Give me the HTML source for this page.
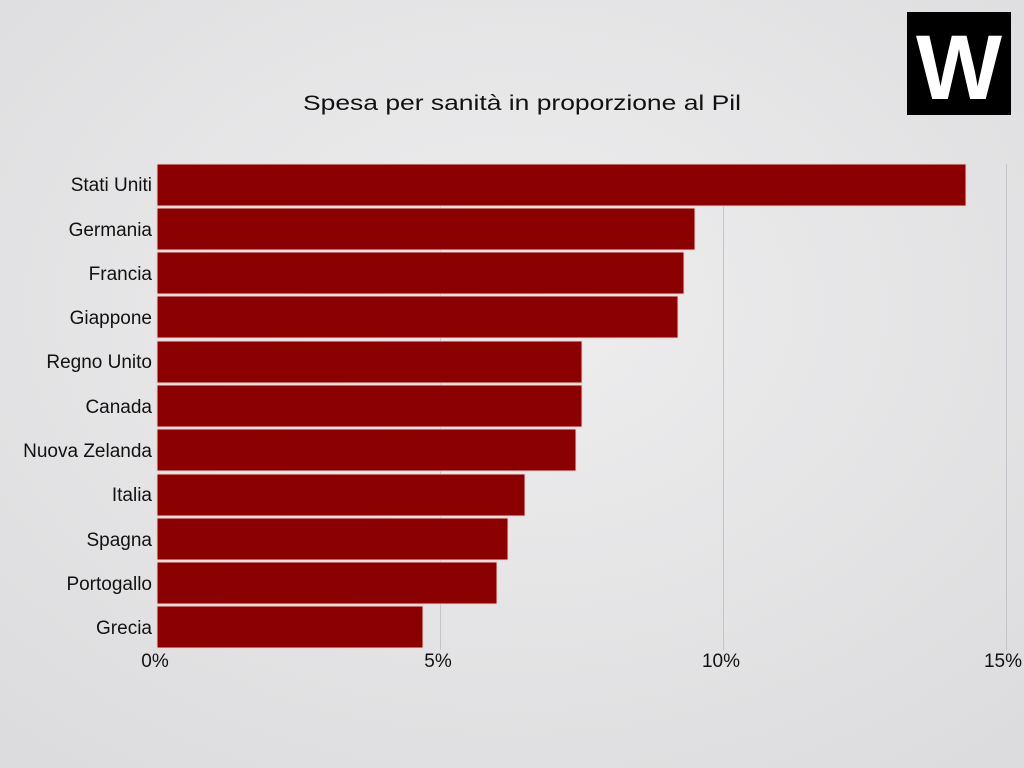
<!DOCTYPE html>
<html><head><meta charset="utf-8"><style>
body{margin:0;width:1024px;height:768px;overflow:hidden;background:#e6e6e8;}
</style></head><body>
<svg width="1024" height="768" xmlns="http://www.w3.org/2000/svg" style="display:block">
<defs>
<radialGradient id="bg" cx="50%" cy="40%" r="75%">
<stop offset="0" stop-color="#eeeeef"/><stop offset="1" stop-color="#dcdcde"/>
</radialGradient>
</defs>
<rect width="1024" height="768" fill="url(#bg)"/>
<g stroke="#c4c4c8" stroke-width="1">
<line x1="440.5" y1="164" x2="440.5" y2="650"/>
<line x1="723.5" y1="164" x2="723.5" y2="650"/>
<line x1="1006.5" y1="164" x2="1006.5" y2="650"/>
</g>
<rect x="907" y="12" width="104" height="103" fill="#000"/>
<text x="959" y="99" text-anchor="middle" font-family="Liberation Sans, sans-serif" font-weight="bold" font-size="92" fill="#fff" textLength="86" lengthAdjust="spacingAndGlyphs">W</text>
<text x="522" y="110" text-anchor="middle" font-family="Liberation Sans, sans-serif" font-size="21" fill="#111" textLength="438" lengthAdjust="spacingAndGlyphs">Spesa per sanità in proporzione al Pil</text>
<g fill="#8b0000" stroke="#f0d0d0" stroke-width="1">
<rect x="157" y="164" width="809" height="42"/>
<rect x="157" y="208" width="538" height="42"/>
<rect x="157" y="252" width="527" height="42"/>
<rect x="157" y="296" width="521" height="42"/>
<rect x="157" y="341" width="425" height="42"/>
<rect x="157" y="385" width="425" height="42"/>
<rect x="157" y="429" width="419" height="42"/>
<rect x="157" y="474" width="368" height="42"/>
<rect x="157" y="518" width="351" height="42"/>
<rect x="157" y="562" width="340" height="42"/>
<rect x="157" y="606" width="266" height="42"/>
</g>
<g font-family="Liberation Sans, sans-serif" font-size="19" fill="#111" text-anchor="end">
<text x="152" y="191">Stati Uniti</text>
<text x="152" y="236">Germania</text>
<text x="152" y="280">Francia</text>
<text x="152" y="324">Giappone</text>
<text x="152" y="368">Regno Unito</text>
<text x="152" y="413">Canada</text>
<text x="152" y="457">Nuova Zelanda</text>
<text x="152" y="501">Italia</text>
<text x="152" y="546">Spagna</text>
<text x="152" y="590">Portogallo</text>
<text x="152" y="634">Grecia</text>
</g>
<g font-family="Liberation Sans, sans-serif" font-size="19" fill="#111" text-anchor="middle">
<text x="155" y="667">0%</text>
<text x="438" y="667">5%</text>
<text x="721" y="667">10%</text>
<text x="1003" y="667">15%</text>
</g>
</svg>
</body></html>
